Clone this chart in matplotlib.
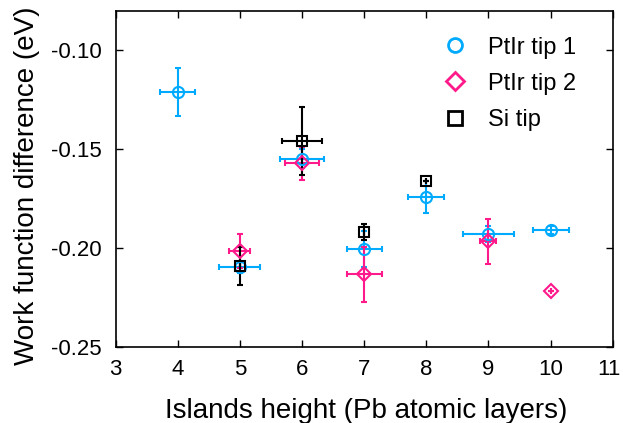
import matplotlib
matplotlib.use("Agg")
import matplotlib.pyplot as plt
import matplotlib.transforms as mtransforms
from matplotlib.lines import Line2D

plt.rcParams['font.family'] = ['Liberation Sans', 'DejaVu Sans']

# PtIr tip 1
x1 = [4, 5, 6, 7, 8, 9, 10]
y1 = [-0.1212, -0.2099, -0.1548, -0.2005, -0.1742, -0.1930, -0.1910]
xe1 = [0.28, 0.33, 0.35, 0.28, 0.29, 0.41, 0.29]
ye1 = [0.012, 0.003, 0.005, 0.009, 0.008, 0.004, 0.002]

# PtIr tip 2
x2 = [5, 6, 7, 9, 10]
y2 = [-0.2015, -0.1573, -0.2134, -0.1967, -0.2217]
xe2 = [0.17, 0.28, 0.28, 0.13, 0.0]
ye2 = [0.0087, 0.0085, 0.014, 0.0115, 0.0]

# Si tip
x3 = [5, 6, 7, 8]
y3 = [-0.2092, -0.1460, -0.1919, -0.1662]
xe3 = [0.0, 0.32, 0.0, 0.0]
ye3 = [0.0096, 0.0173, 0.004, 0.0]

labels = ['PtIr tip 1', 'PtIr tip 2', 'Si tip']
xticks = [3, 4, 5, 6, 7, 8, 9, 10, 11]
yticks = [-0.25, -0.20, -0.15, -0.10]

c1 = '#00AAFF'
c2 = '#FF1A8C'
c3 = '#000000'

fig = plt.figure(figsize=(6.23, 4.23), dpi=100)
ax = fig.add_axes([0.1854, 0.1804, 0.7981, 0.7943])

kw = dict(linestyle='none', elinewidth=1.5, capsize=2, capthick=1.5,
          markerfacecolor='none', markeredgewidth=1.5)
ax.errorbar(x1, y1, xerr=xe1, yerr=ye1, fmt='o', color=c1, markersize=8, **kw)
ax.errorbar(x2, y2, xerr=xe2, yerr=ye2, fmt='D', color=c2, markersize=7.5, **kw)
ax.errorbar(x3, y3, xerr=xe3, yerr=ye3, fmt='s', color=c3, markersize=7, **kw)

ax.set_xlim(3, 11)
ax.set_ylim(-0.25, -0.08)
ax.set_xticks(xticks)
ax.set_yticks(yticks)
ax.set_yticklabels(['%.2f' % v for v in yticks])
ax.tick_params(direction='in', top=True, right=True, length=5, width=1,
               labelsize=16)
ax.tick_params(axis='x', pad=9)
ax.tick_params(axis='y', pad=10)
for s in ax.spines.values():
    s.set_linewidth(1.2)

# nudge the last x tick label slightly left so it stays inside the figure
last = ax.get_xticklabels()[-1]
last.set_transform(last.get_transform() + mtransforms.ScaledTranslation(-4/100, 0, fig.dpi_scale_trans))

ax.set_xlabel('Islands height (Pb atomic layers)', fontsize=20)
ax.set_ylabel('Work function difference (eV)', fontsize=20)
ax.xaxis.set_label_coords(0.505, -0.153)
ax.yaxis.set_label_coords(-0.152, 0.478)

handles = [
    Line2D([], [], marker='o', linestyle='none', color=c1, markerfacecolor='none', markeredgewidth=2, markersize=10),
    Line2D([], [], marker='D', linestyle='none', color=c2, markerfacecolor='none', markeredgewidth=2, markersize=9),
    Line2D([], [], marker='s', linestyle='none', color=c3, markerfacecolor='none', markeredgewidth=2, markersize=10),
]
ax.legend(handles, labels, loc='upper left', frameon=False, fontsize=17,
          handlelength=2.0, handletextpad=0.4, labelspacing=0.6,
          borderpad=0, borderaxespad=0, bbox_to_anchor=(0.635, 0.923))

fig.savefig('out.png', dpi=100)
